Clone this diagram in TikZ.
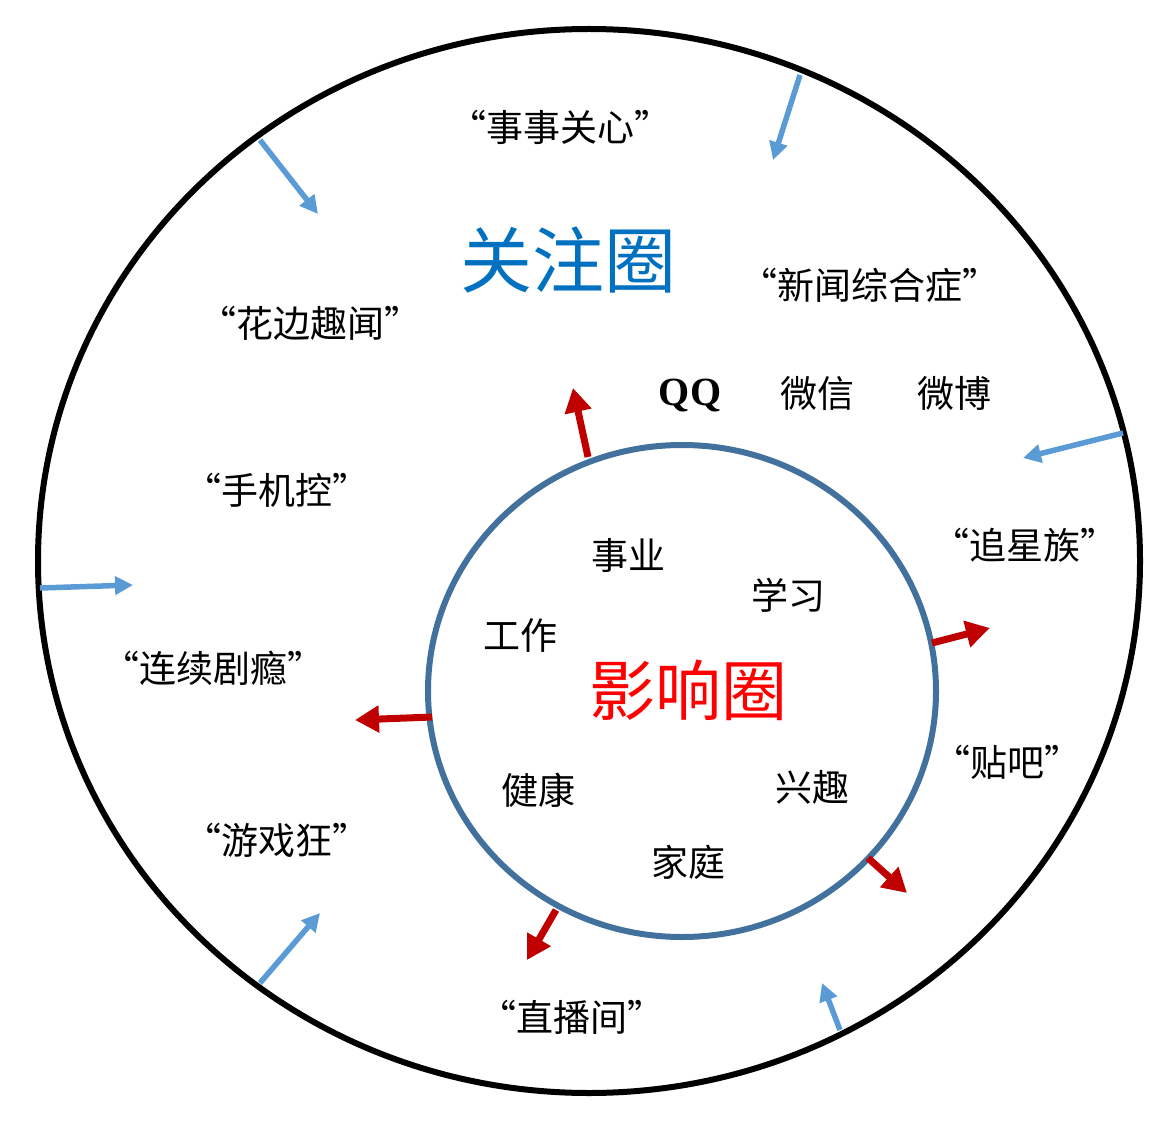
\documentclass[tikz,border=0pt]{standalone}
\usepackage{fontspec}
\setmainfont{Liberation Serif}
\newfontfamily\cjk{Noto Sans CJK SC}[BoldFont={Noto Sans CJK SC Bold}]
\usetikzlibrary{arrows.meta}
\definecolor{bl}{HTML}{5B9BD5}
\definecolor{rd}{HTML}{C00000}
\definecolor{ring}{HTML}{41719C}
\definecolor{titleblue}{HTML}{0070C0}
\begin{document}
\begin{tikzpicture}[x=1pt,y=-1pt,
  lbl/.style={font=\cjk\fontsize{37}{39}\selectfont},
  inarr/.style={bl,line width=5.5pt,-{Triangle[length=18pt,width=18pt]}},
  outarr/.style={rd,line width=7pt,-{Triangle[length=24pt,width=26pt]}}]
\useasboundingbox (0,0) rectangle (1170,1123);
\draw[line width=6pt] (589,561) ellipse [x radius=551, y radius=532];
\draw[ring,line width=6pt] (682,691) ellipse [x radius=254, y radius=246];
% blue arrows
\coordinate (b1s) at (260,140); \coordinate (b1e) at (318,214);
\coordinate (b2s) at (800,75); \coordinate (b2e) at (773,160);
\coordinate (b3s) at (1123,433); \coordinate (b3e) at (1023,458);
\coordinate (b4s) at (40,588); \coordinate (b4e) at (133,585);
\coordinate (b5s) at (260,983); \coordinate (b5e) at (320,913);
\coordinate (b6s) at (840,1030); \coordinate (b6e) at (822,983);
\foreach \i in {1,...,6} \draw[inarr] (b\i s) -- (b\i e);
% red arrows
\coordinate (r1s) at (588,457); \coordinate (r1e) at (573,388);
\coordinate (r2s) at (932,643); \coordinate (r2e) at (990,628);
\coordinate (r3s) at (432,717); \coordinate (r3e) at (355,720);
\coordinate (r4s) at (868,858); \coordinate (r4e) at (907,893);
\coordinate (r5s) at (556,910); \coordinate (r5e) at (527,960);
\foreach \i in {1,...,5} \draw[outarr] (r\i s) -- (r\i e);
% labels
\node[lbl] (t1) at (560,127) {“事事关心”};
\node[font=\cjk\fontsize{72}{74}\selectfont,text=titleblue] (t2) at (568,260) {关注圈};
\node[lbl] (t3) at (870,285) {“新闻综合症”};
\node[lbl] (t4) at (310,323) {“花边趣闻”};
\node[font=\bfseries\fontsize{40}{42}\selectfont] (t5) at (690,395) {QQ};
\node[lbl] (t6) at (817,393) {微信};
\node[lbl] (t7) at (954,393) {微博};
\node[lbl] (t8) at (277,490) {“手机控”};
\node[lbl] (t9) at (1025,545) {“追星族”};
\node[lbl] (t10) at (628,555) {事业};
\node[lbl] (t11) at (788,595) {学习};
\node[lbl] (t12) at (520,635) {工作};
\node[font=\cjk\fontsize{66}{68}\selectfont,text=red] (t13) at (688,690) {影响圈};
\node[lbl] (t14) at (213,668) {“连续剧瘾”};
\node[lbl] (t15) at (1007,762) {“贴吧”};
\node[lbl] (t16) at (538,790) {健康};
\node[lbl] (t17) at (812,787) {兴趣};
\node[lbl] (t18) at (688,862) {家庭};
\node[lbl] (t19) at (277,840) {“游戏狂”};
\node[lbl] (t20) at (572,1017) {“直播间”};
\end{tikzpicture}
\end{document}
